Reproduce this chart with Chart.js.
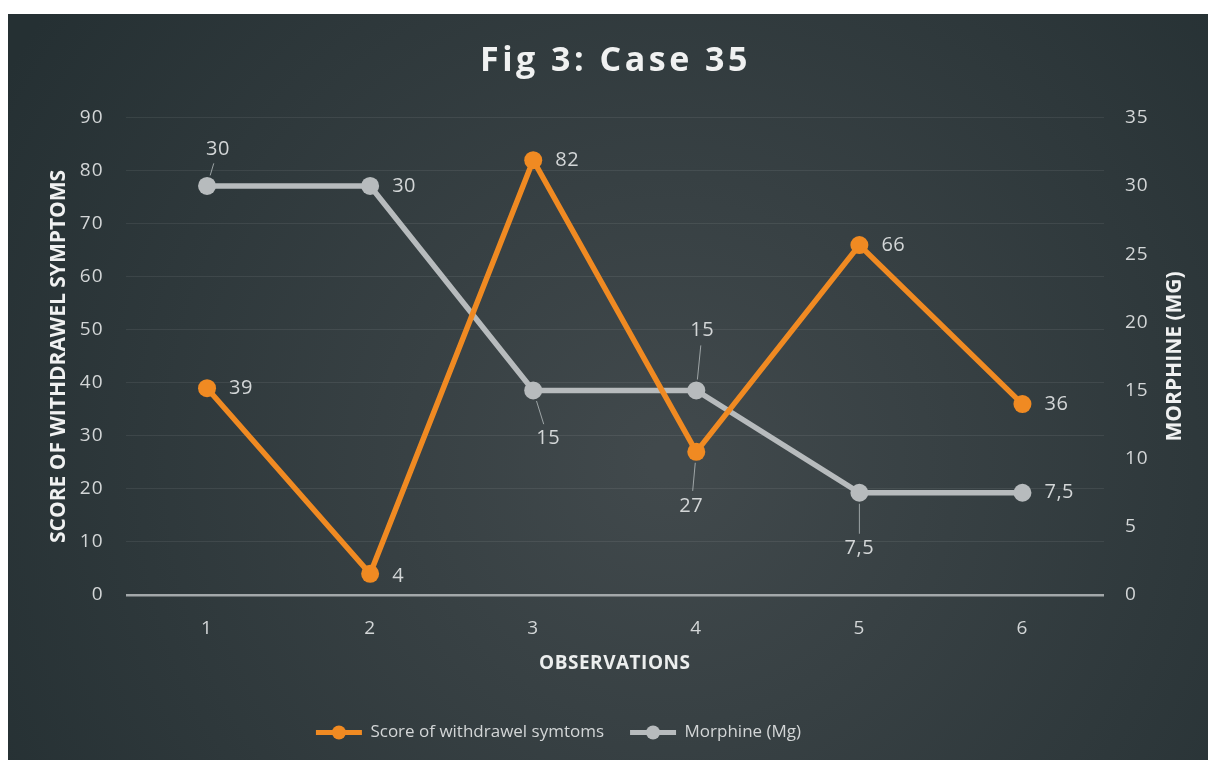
<!DOCTYPE html>
<html>
<head>
<meta charset="utf-8">
<script src="https://cdn.jsdelivr.net/npm/chart.js@4.4.1/dist/chart.umd.min.js"></script>
<style>
  html, body { margin: 0; padding: 0; background: #ffffff; width: 1208px; height: 760px; overflow: hidden; }
  #wrap { position: absolute; left: 8px; top: 14px; width: 1200px; height: 746px; }
</style>
</head>
<body>
<div id="wrap"><canvas id="c"></canvas></div>
<script>
// ---- data ----
const categories = ['1', '2', '3', '4', '5', '6'];
const scoreValues = [39, 4, 82, 27, 66, 36];
const morphineValues = [30, 30, 15, 15, 7.5, 7.5];
const scoreLabels = ['39', '4', '82', '27', '66', '36'];
const morphineLabels = ['30', '30', '15', '15', '7,5', '7,5'];
const leftTicks = [0, 10, 20, 30, 40, 50, 60, 70, 80, 90];
const rightTicks = [0, 5, 10, 15, 20, 25, 30, 35];

// ---- label placement (style): 'right' = beside the point, otherwise with a leader line ----
const scorePlacement = ['right', 'right', 'right', 'below', 'right', 'right'];
const morphinePlacement = ['above', 'right', 'below', 'above', 'below', 'right'];
const scoreLabelOffset = [[22, 0], [22, 3], [22, 0], [-5, 54], [22, 0], [22, 0]];
const morphineLabelOffset = [[11, -37], [22, 0], [15, 48], [6, -60], [0, 56], [22, 0]];

const ORANGE = '#f08a22';
const GREY = '#b7bbbd';
const TEXT = '#d3d6d7';
const FONT = "'Open Sans', 'Noto Sans', sans-serif";
const LEGEND_SHIFT = -57;

const bgPlugin = {
  id: 'bg',
  beforeDraw(chart) {
    const { ctx, width, height } = chart;
    const g = ctx.createRadialGradient(width * 0.55, height * 0.6, 20, width * 0.55, height * 0.6, width * 0.64);
    g.addColorStop(0, '#41494c');
    g.addColorStop(1, '#253033');
    ctx.save();
    ctx.fillStyle = g;
    ctx.fillRect(0, 0, width, height);
    ctx.restore();
  }
};

const labelPlugin = {
  id: 'pointLabels',
  afterDatasetsDraw(chart) {
    const { ctx } = chart;
    const sets = [
      { idx: 0, labels: scoreLabels, place: scorePlacement, off: scoreLabelOffset },
      { idx: 1, labels: morphineLabels, place: morphinePlacement, off: morphineLabelOffset }
    ];
    ctx.save();
    ctx.font = "20px " + FONT;
    ctx.letterSpacing = '0.5px';
    ctx.fillStyle = TEXT;
    ctx.strokeStyle = 'rgba(190,196,198,0.75)';
    ctx.lineWidth = 1;
    sets.forEach(s => {
      const meta = chart.getDatasetMeta(s.idx);
      meta.data.forEach((pt, j) => {
        const p = s.place[j];
        const [dx, dy] = s.off[j];
        const x = pt.x, y = pt.y;
        ctx.textBaseline = 'middle';
        if (p === 'right') {
          ctx.textAlign = 'left';
          ctx.fillText(s.labels[j], x + dx, y + dy);
        } else {
          ctx.textAlign = 'center';
          const lx = x + dx, ly = y + dy;
          ctx.fillText(s.labels[j], lx, ly);
          const len = Math.hypot(dx, dy);
          const ux = dx / len, uy = dy / len;
          ctx.beginPath();
          ctx.moveTo(x + ux * 11, y + uy * 11);
          ctx.lineTo(lx - ux * 15, ly - uy * 15);
          ctx.stroke();
        }
      });
    });
    ctx.restore();
  }
};

const legendMarkerPlugin = {
  id: 'legendMarkers',
  afterDraw(chart) {
    const lg = chart.legend;
    if (!lg || !lg.legendHitBoxes) return;
    const { ctx } = chart;
    const bw = lg.options.labels.boxWidth;
    ctx.save();
    lg.legendHitBoxes.forEach((hb, i) => {
      const ds = chart.data.datasets[i];
      ctx.fillStyle = ds.borderColor;
      ctx.beginPath();
      ctx.arc(hb.left + bw / 2 + LEGEND_SHIFT, hb.top + hb.height / 2, 7, 0, Math.PI * 2);
      ctx.fill();
    });
    ctx.restore();
  }
};

const chart = new Chart(document.getElementById('c'), {
  type: 'line',
  data: {
    labels: categories,
    datasets: [
      {
        label: 'Score of withdrawel symtoms',
        data: scoreValues,
        yAxisID: 'y',
        borderColor: ORANGE,
        backgroundColor: ORANGE,
        borderWidth: 5.5,
        pointRadius: 9,
        pointHoverRadius: 9,
        pointBackgroundColor: ORANGE,
        pointBorderWidth: 0,
        tension: 0
      },
      {
        label: 'Morphine (Mg)',
        data: morphineValues,
        yAxisID: 'y2',
        borderColor: GREY,
        backgroundColor: GREY,
        borderWidth: 5.5,
        pointRadius: 9,
        pointHoverRadius: 9,
        pointBackgroundColor: GREY,
        pointBorderWidth: 0,
        tension: 0
      }
    ]
  },
  options: {
    responsive: true,
    maintainAspectRatio: false,
    animation: false,
    layout: { padding: { left: 38, right: 23, top: 0, bottom: 9 } },
    plugins: {
      title: {
        display: true,
        text: 'Fig 3: Case 35',
        color: '#f0f1f1',
        font: { family: FONT, size: 34, weight: 'bold' },
        padding: { top: 27, bottom: 36 }
      },
      legend: {
        position: 'bottom',
        labels: {
          color: TEXT,
          font: { family: FONT, size: 17 },
          boxWidth: 46,
          boxHeight: 5,
          padding: 26,
          generateLabels(ch) {
            const items = Chart.defaults.plugins.legend.labels.generateLabels(ch);
            items.forEach(it => { it.lineWidth = 0; it.fillStyle = it.strokeStyle; });
            return items;
          }
        }
      },
      tooltip: { enabled: false }
    },
    scales: {
      x: {
        offset: true,
        grid: { display: false, drawTicks: false },
        border: { display: false },
        ticks: { color: TEXT, font: { family: FONT, size: 19 }, padding: 22 },
        title: {
          display: true,
          text: 'OBSERVATIONS',
          color: '#eceeee',
          font: { family: FONT, size: 19, weight: 'bold' },
          padding: { top: 0, bottom: 23 }
        },
        afterFit(s) { s.height = 103; }
      },
      y: {
        position: 'left',
        min: 0,
        max: 90,
        afterBuildTicks(s) { s.ticks = leftTicks.map(v => ({ value: v })); },
        grid: {
          drawTicks: false,
          color: c => (c.tick && c.tick.value === 0) ? '#a3a8aa' : 'rgba(255,255,255,0.075)',
          lineWidth: c => (c.tick && c.tick.value === 0) ? 2.5 : 1
        },
        border: { display: false },
        ticks: { color: TEXT, font: { family: FONT, size: 19 }, padding: 22 },
        title: {
          display: true,
          text: 'SCORE OF WITHDRAWEL SYMPTOMS',
          color: '#f0f1f1',
          font: { family: FONT, size: 21, weight: 'bold' },
          padding: { top: 0, bottom: 0 }
        },
        afterFit(s) { s.width = 79.5; }
      },
      y2: {
        position: 'right',
        min: 0,
        max: 35,
        afterBuildTicks(s) { s.ticks = rightTicks.map(v => ({ value: v })); },
        grid: { display: false, drawTicks: false },
        border: { display: false },
        ticks: { color: TEXT, font: { family: FONT, size: 19 }, padding: 21 },
        title: {
          display: true,
          text: 'MORPHINE (MG)',
          color: '#f0f1f1',
          font: { family: FONT, size: 21, weight: 'bold' },
          padding: { top: 0, bottom: 0 }
        },
        afterFit(s) { s.width = 81; }
      }
    }
  },
  plugins: [bgPlugin, labelPlugin, legendMarkerPlugin]
});

// letter spacing for the title and tick labels, and a bottom-to-top right axis title
(function patch() {
  const ctx = chart.ctx;
  const tb = chart.titleBlock;
  const origTitle = tb.draw.bind(tb);
  tb.draw = function () { ctx.save(); ctx.letterSpacing = '3.5px'; origTitle(); ctx.restore(); };

  const lg = chart.legend;
  const origLegend = lg.draw.bind(lg);
  lg.draw = function () { ctx.save(); ctx.translate(LEGEND_SHIFT, 0); origLegend(); ctx.restore(); };

  ['x', 'y', 'y2'].forEach(id => {
    const s = chart.scales[id];
    const origLabels = s.drawLabels.bind(s);
    s.drawLabels = function (a) { ctx.save(); ctx.letterSpacing = '1px'; origLabels(a); ctx.restore(); };
  });
  const sx = chart.scales.x;
  const origXT = sx.drawTitle.bind(sx);
  sx.drawTitle = function () { ctx.save(); ctx.letterSpacing = '0.5px'; origXT(); ctx.restore(); };

  const s2 = chart.scales.y2;
  s2.drawTitle = function () {
    const t = s2.options.title;
    ctx.save();
    ctx.font = 'bold ' + t.font.size + 'px ' + FONT;
    ctx.fillStyle = t.color;
    ctx.textAlign = 'center';
    ctx.textBaseline = 'middle';
    ctx.translate(s2.right - 10, (s2.top + s2.bottom) / 2);
    ctx.rotate(-Math.PI / 2);
    ctx.fillText(t.text, 0, 0);
    ctx.restore();
  };
  chart.draw();
})();
</script>
</body>
</html>
